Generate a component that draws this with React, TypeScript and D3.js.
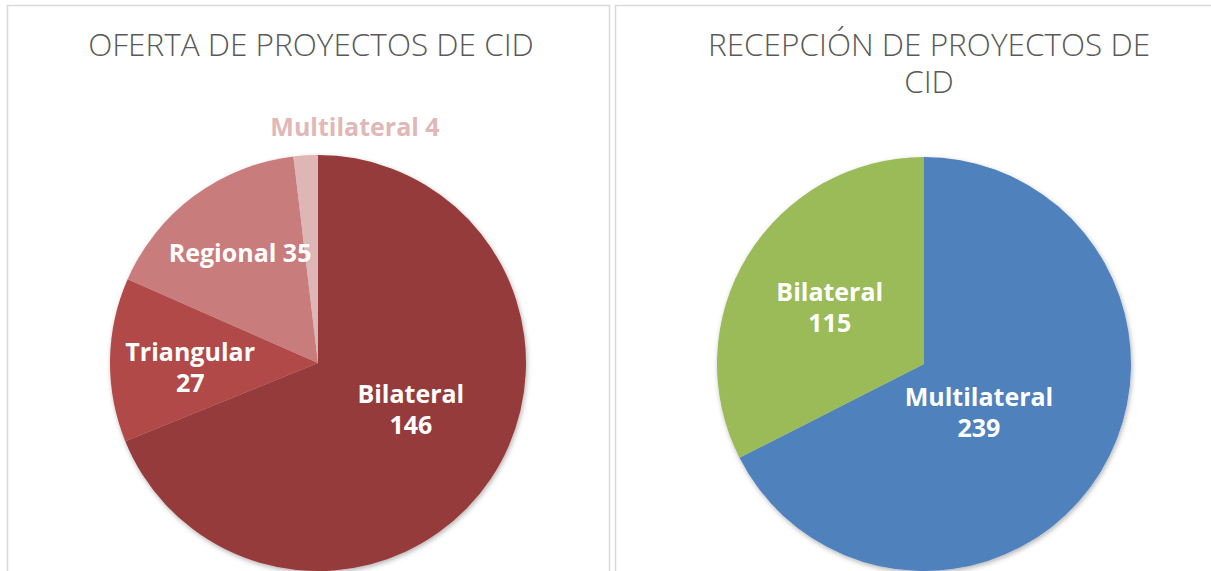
import React, { useEffect, useRef } from "react";
import * as d3 from "d3";

const leftCategories = ["Bilateral", "Triangular", "Regional", "Multilateral"];
const leftValues = [146, 27, 35, 4];
const leftColors = ["#963b3a", "#b24a48", "#c97b7b", "#dfb6b6"];

const rightCategories = ["Multilateral", "Bilateral"];
const rightValues = [239, 115];
const rightColors = ["#4f81bd", "#9bbb59"];

// label placement: [angle degrees clockwise from top, radius fraction]
const leftLabelPolar = [
  [116.8, 0.5],
  [267.8, 0.615],
  [324.8, 0.65],
  [8.9, 1.149],
];
const leftLabelLines = [
  ["Bilateral", "146"],
  ["Triangular", "27"],
  ["Regional 35"],
  ["Multilateral 4"],
];
const rightLabelPolar = [
  [131.4, 0.354],
  [300.8, 0.53],
];
const rightLabelLines = [
  ["Multilateral", "239"],
  ["Bilateral", "115"],
];

export default function App() {
  const ref = useRef<SVGSVGElement>(null);
  useEffect(() => {
    document.body.style.margin = "0";
    const svg = d3.select(ref.current);
    svg.selectAll("*").remove();
    const W = 1211, H = 571;

    const defs = svg.append("defs");
    const f = defs.append("filter").attr("id", "sh").attr("x", "-20%").attr("y", "-20%").attr("width", "140%").attr("height", "140%");
    f.append("feDropShadow").attr("dx", 1).attr("dy", 2).attr("stdDeviation", 2.5).attr("flood-color", "#000").attr("flood-opacity", 0.3);

    svg.append("rect").attr("x", 0).attr("y", 0).attr("width", W).attr("height", H).attr("fill", "#fff");
    // panel borders
    svg.append("rect").attr("x", 7.5).attr("y", 5.5).attr("width", 602).attr("height", 600).attr("fill", "none").attr("stroke", "#d9d9d9").attr("stroke-width", 1.5);
    svg.append("rect").attr("x", 615.5).attr("y", 5.5).attr("width", 620).attr("height", 600).attr("fill", "none").attr("stroke", "#d9d9d9").attr("stroke-width", 1.5);

    const titleFont = "'Open Sans', sans-serif";
    const labelFont = "'Open Sans', sans-serif";

    function drawPie(cx: number, cy: number, R: number, values: number[], colors: string[], cats: string[], polar: number[][], lines: string[][], outsideColor: string | null) {
      const g = svg.append("g").attr("transform", `translate(${cx},${cy})`);
      const pie = d3.pie<number>().sort(null).value((d) => d);
      const arcs = pie(values);
      const arc = d3.arc<d3.PieArcDatum<number>>().innerRadius(0).outerRadius(R);
      const pg = g.append("g").attr("filter", "url(#sh)");
      pg.selectAll("path").data(arcs).join("path").attr("d", arc as any).attr("fill", (_, i) => colors[i]).attr("data-cat", (_, i) => cats[i]);
      const lh = 31;
      arcs.forEach((_, i) => {
        const [ang, rf] = polar[i];
        const a = (ang * Math.PI) / 180;
        const x = Math.sin(a) * R * rf;
        const y = -Math.cos(a) * R * rf;
        const ls = lines[i];
        const outside = rf > 1;
        const t = g.append("text").attr("text-anchor", "middle").attr("font-family", labelFont).attr("font-weight", 700).attr("font-size", 25)
          .attr("fill", outside && outsideColor ? outsideColor : "#ffffff");
        ls.forEach((l, j) => {
          t.append("tspan").attr("x", x).attr("y", y + (j - (ls.length - 1) / 2) * lh + 9).text(l);
        });
      });
    }

    // titles
    const titleAttrs = (s: any) => s.attr("text-anchor", "middle").attr("font-family", titleFont).attr("font-weight", 300).attr("font-size", 31.5).attr("fill", "#595959");
    svg.append("text").call(titleAttrs).attr("x", 311).attr("y", 56).text("OFERTA DE PROYECTOS DE CID");
    svg.append("text").call(titleAttrs).attr("x", 929).attr("y", 56).text("RECEPCIÓN DE PROYECTOS DE");
    svg.append("text").call(titleAttrs).attr("x", 929).attr("y", 93).text("CID");

    drawPie(318, 363, 208, leftValues, leftColors, leftCategories, leftLabelPolar, leftLabelLines, "#e0b8b8");
    drawPie(924, 364, 207, rightValues, rightColors, rightCategories, rightLabelPolar, rightLabelLines, null);
  }, []);
  return <svg ref={ref} width={1211} height={571} style={{ display: "block" }} />;
}
